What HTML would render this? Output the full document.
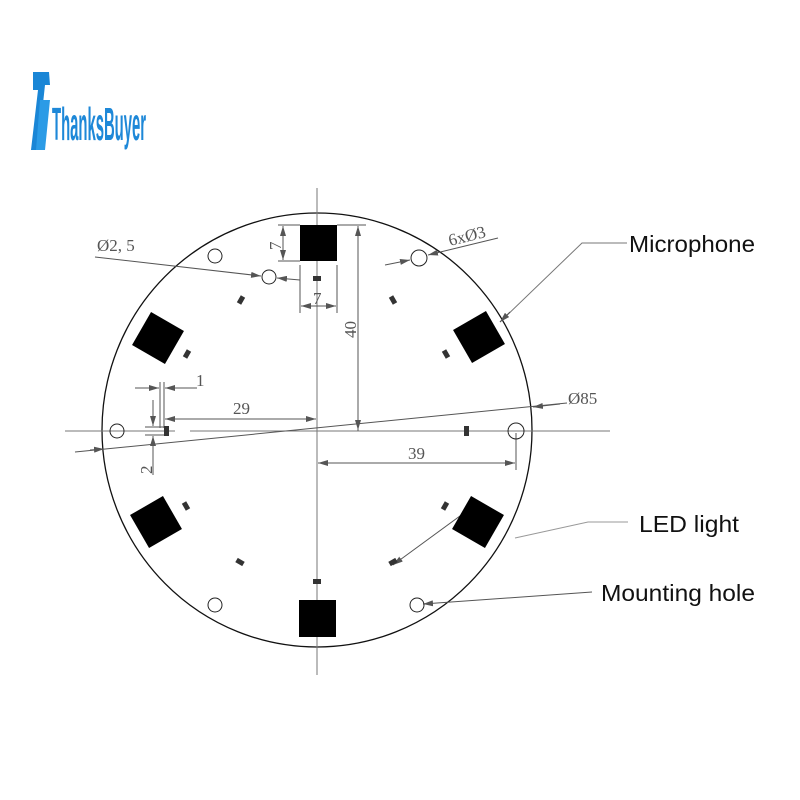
<!DOCTYPE html>
<html><head><style>body{margin:0;background:#fff}svg{display:block}</style></head><body>
<svg width="800" height="800" viewBox="0 0 800 800" xmlns="http://www.w3.org/2000/svg">
<defs>
<marker id="a" markerWidth="10" markerHeight="6" refX="10" refY="3" orient="auto" markerUnits="userSpaceOnUse"><path d="M0,0 L10,3 L0,6z" fill="#555"/></marker>
</defs>
<rect width="800" height="800" fill="#fff"/>
<!-- logo -->
<path d="M33,72 L49,72 L50,85 L45,85 L38,150 L31,150 L38,90 L33,90z" fill="#1a86d6"/>
<path d="M40,100 L50,100 L45,150 L36,150z" fill="#2b9be6"/>
<text x="52" y="140" font-family="Liberation Sans, sans-serif" font-size="46" fill="#1e88d8" textLength="94" lengthAdjust="spacingAndGlyphs" font-weight="bold">ThanksBuyer</text>
<g fill="none" stroke="#555" stroke-width="1">
<ellipse cx="317" cy="430" rx="215" ry="217" stroke="#111" stroke-width="1.3"/>
<line x1="317" y1="188" x2="317" y2="675" stroke="#777"/>
<line x1="65" y1="431" x2="175" y2="431" stroke="#777"/>
<line x1="190" y1="431" x2="610" y2="431" stroke="#777"/>
<line x1="75" y1="452" x2="567" y2="403"/>
<line x1="337" y1="225" x2="366" y2="225"/>
<line x1="358" y1="431" x2="358" y2="226" marker-end="url(#a)"/>
<line x1="358" y1="300" x2="358" y2="430" marker-end="url(#a)"/>
<line x1="278" y1="225" x2="300" y2="225"/><line x1="278" y1="261" x2="300" y2="261"/>
<line x1="283" y1="243" x2="283" y2="226" marker-end="url(#a)"/><line x1="283" y1="243" x2="283" y2="260" marker-end="url(#a)"/>
<line x1="300" y1="265" x2="300" y2="313"/><line x1="337" y1="265" x2="337" y2="313"/>
<line x1="318" y1="306" x2="301" y2="306" marker-end="url(#a)"/><line x1="318" y1="306" x2="336" y2="306" marker-end="url(#a)"/>
<line x1="95" y1="257" x2="261" y2="276" marker-end="url(#a)"/>
<line x1="300" y1="280" x2="277" y2="278" marker-end="url(#a)"/>
<line x1="385" y1="265" x2="410" y2="260" marker-end="url(#a)"/>
<line x1="498" y1="238" x2="428" y2="255" marker-end="url(#a)"/>
<line x1="240" y1="419" x2="165" y2="419" marker-end="url(#a)"/><line x1="240" y1="419" x2="316" y2="419" marker-end="url(#a)"/>
<line x1="160" y1="382" x2="160" y2="428"/><line x1="164" y1="382" x2="164" y2="428"/>
<line x1="135" y1="388" x2="159" y2="388" marker-end="url(#a)"/><line x1="197" y1="388" x2="165" y2="388" marker-end="url(#a)"/>
<line x1="145" y1="427" x2="165" y2="427"/><line x1="145" y1="435" x2="165" y2="435"/>
<line x1="153" y1="400" x2="153" y2="426" marker-end="url(#a)"/><line x1="153" y1="475" x2="153" y2="436" marker-end="url(#a)"/>
<line x1="516" y1="433" x2="516" y2="470"/>
<line x1="418" y1="463" x2="318" y2="463" marker-end="url(#a)"/><line x1="418" y1="463" x2="515" y2="463" marker-end="url(#a)"/>
<line x1="90" y1="450" x2="104" y2="449" marker-end="url(#a)"/>
<line x1="560" y1="404" x2="533" y2="407" marker-end="url(#a)"/>
<polyline points="627,243 582,243 500,322" stroke="#777"/><line x1="510" y1="312" x2="500" y2="322" marker-end="url(#a)"/>
<polyline points="628,522 588,522 515,538" stroke="#999"/>
<line x1="475" y1="505" x2="393" y2="565" marker-end="url(#a)"/>
<line x1="592" y1="592" x2="423" y2="604" marker-end="url(#a)"/>
<circle cx="215" cy="256" r="7" stroke="#222"/><circle cx="269" cy="277" r="7" stroke="#222"/>
<circle cx="419" cy="258" r="8" stroke="#222"/><circle cx="117" cy="431" r="7" stroke="#222"/>
<circle cx="516" cy="431" r="8" stroke="#222"/><circle cx="215" cy="605" r="7" stroke="#222"/>
<circle cx="417" cy="605" r="7" stroke="#222"/>
</g>
<g fill="#000">
<rect x="300" y="225" width="37" height="36"/><rect x="299" y="600" width="37" height="37"/>
<rect x="-19" y="-19" width="38" height="38" transform="translate(158,338) rotate(30)"/>
<rect x="-19" y="-19" width="38" height="38" transform="translate(479,337) rotate(-30)"/>
<rect x="-19" y="-19" width="38" height="38" transform="translate(156,522) rotate(-30)"/>
<rect x="-19" y="-19" width="38" height="38" transform="translate(478,522) rotate(30)"/>
</g>
<g fill="#333">
<rect x="313" y="276" width="8" height="5"/><rect x="313" y="579" width="8" height="5"/>
<rect x="164" y="426" width="5" height="10"/><rect x="464" y="426" width="5" height="10"/>
<rect x="-4" y="-2.5" width="8" height="5" transform="translate(241,300) rotate(-60)"/>
<rect x="-4" y="-2.5" width="8" height="5" transform="translate(393,300) rotate(60)"/>
<rect x="-4" y="-2.5" width="8" height="5" transform="translate(187,354) rotate(-60)"/>
<rect x="-4" y="-2.5" width="8" height="5" transform="translate(446,354) rotate(60)"/>
<rect x="-4" y="-2.5" width="8" height="5" transform="translate(186,506) rotate(60)"/>
<rect x="-4" y="-2.5" width="8" height="5" transform="translate(445,506) rotate(-60)"/>
<rect x="-4" y="-2.5" width="8" height="5" transform="translate(240,562) rotate(30)"/>
<rect x="-4" y="-2.5" width="8" height="5" transform="translate(393,562) rotate(-30)"/>
</g>
<g font-family="Liberation Serif, serif" font-size="17" fill="#555">
<text x="97" y="251">Ø2, 5</text>
<text x="450" y="246" transform="rotate(-14 450 246)">6xØ3</text>
<text transform="translate(356,338) rotate(-90)">40</text>
<text transform="translate(281,250) rotate(-90)">7</text>
<text x="313" y="304">7</text>
<text x="233" y="414">29</text>
<text x="196" y="386">1</text>
<text transform="translate(152,474) rotate(-90)">2</text>
<text x="408" y="459">39</text>
<text x="568" y="404">Ø85</text>
</g>
<g font-family="Liberation Sans, sans-serif" font-size="23" fill="#111">
<text x="629" y="252" textLength="126" lengthAdjust="spacingAndGlyphs">Microphone</text>
<text x="639" y="532" textLength="100" lengthAdjust="spacingAndGlyphs">LED light</text>
<text x="601" y="601" textLength="154" lengthAdjust="spacingAndGlyphs">Mounting hole</text>
</g>
</svg>
</body></html>
